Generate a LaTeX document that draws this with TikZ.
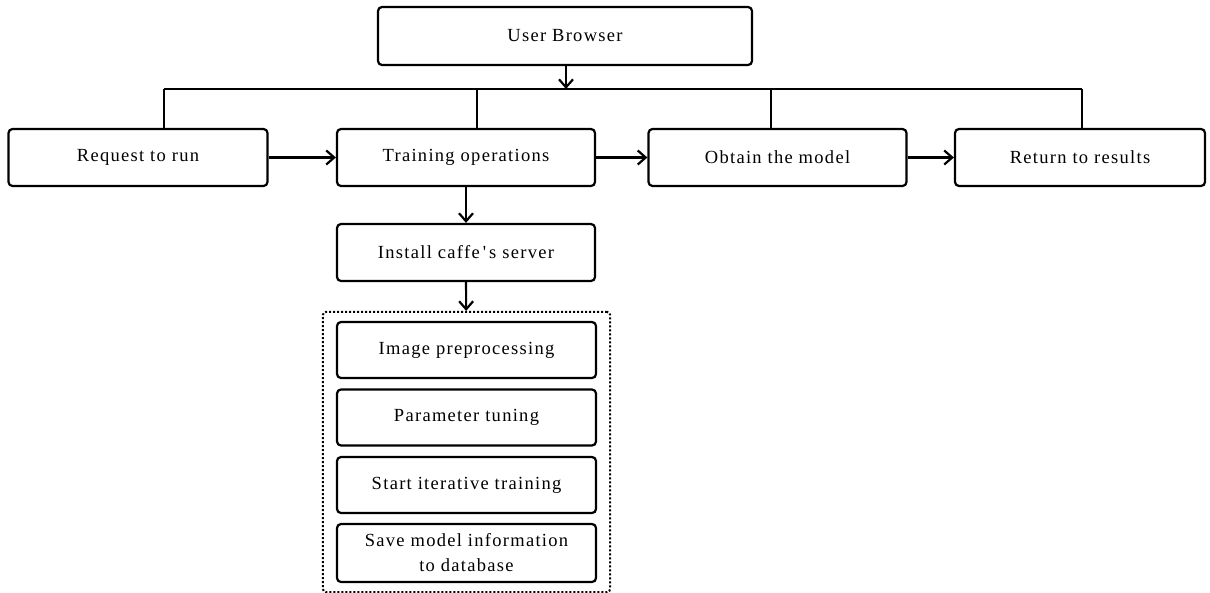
\documentclass[tikz,border=0pt]{standalone}
\usepackage{fontspec}
\setmainfont{Liberation Serif}[LetterSpace=7]
\usetikzlibrary{arrows.meta,fit}
% straight apostrophe, set as a glyph so the TeX mapping leaves it alone
\newcommand{\straightquote}{\XeTeXglyph\the\XeTeXcharglyph"27\relax}
\begin{document}
\begin{tikzpicture}[x=1pt,y=-1pt,
  box/.style={draw, line width=2.2pt, rounded corners=4pt, align=center,
    minimum height=57pt, inner sep=2pt, font=\fontsize{18.5}{25}\selectfont},
  link/.style={line width=2.2pt},
  arr/.style={link, -{Straight Barb[length=8pt,width=14pt,line width=2.2pt]}}]
\useasboundingbox (0,0) rectangle (1210,592);

% top node and the bus below it
\node[box, minimum width=374pt, minimum height=58pt] (ub) at (565,36) {User Browser};
\coordinate (bus) at (566,89);
\coordinate (b1) at (164,89);
\coordinate (b2) at (477,89);
\coordinate (b3) at (771,89);
\coordinate (b4) at (1082,89);

% main row
\node[box, minimum width=259pt] (req) at (138,157.5) {Request to run};
\node[box, minimum width=258pt] (train) at (466,157.5) {Training operations};
\node[box, minimum width=258pt] (obtain) at (777.5,157.5) {Obtain the model};
\node[box, minimum width=250pt] (ret) at (1080,157.5) {Return to results};

% server and its steps
\node[box, minimum width=258pt] (inst) at (466,252.5) {Install caffe\,\straightquote\,s server};
\node[box, minimum width=259pt, minimum height=56pt] (s1) at (466.5,350) {Image preprocessing};
\node[box, minimum width=259pt, minimum height=56pt] (s2) at (466.5,417.5) {Parameter tuning};
\node[box, minimum width=259pt, minimum height=56pt] (s3) at (466.5,485) {Start iterative training};
\node[box, minimum width=259pt, minimum height=58pt] (s4) at (466.5,553) {Save model information\\to database};
\node[draw, line width=2pt, dotted, rounded corners=3pt, inner xsep=13pt, inner ysep=9pt,
  fit=(s1)(s4)] (group) {};

% connectors
\draw[arr] (ub.south -| bus) -- (bus);
\draw[link] (b1) -- (b4);
\draw[link] (b1) -- (b1 |- req.north);
\draw[link] (b2) -- (b2 |- train.north);
\draw[link] (b3) -- (b3 |- obtain.north);
\draw[link] (b4) -- (b4 |- ret.north);
\draw[arr] (req) -- (train);
\draw[arr] (train) -- (obtain);
\draw[arr] (obtain) -- (ret);
\draw[arr] (train) -- (inst);
\draw[arr] (inst) -- (group);
\end{tikzpicture}
\end{document}
